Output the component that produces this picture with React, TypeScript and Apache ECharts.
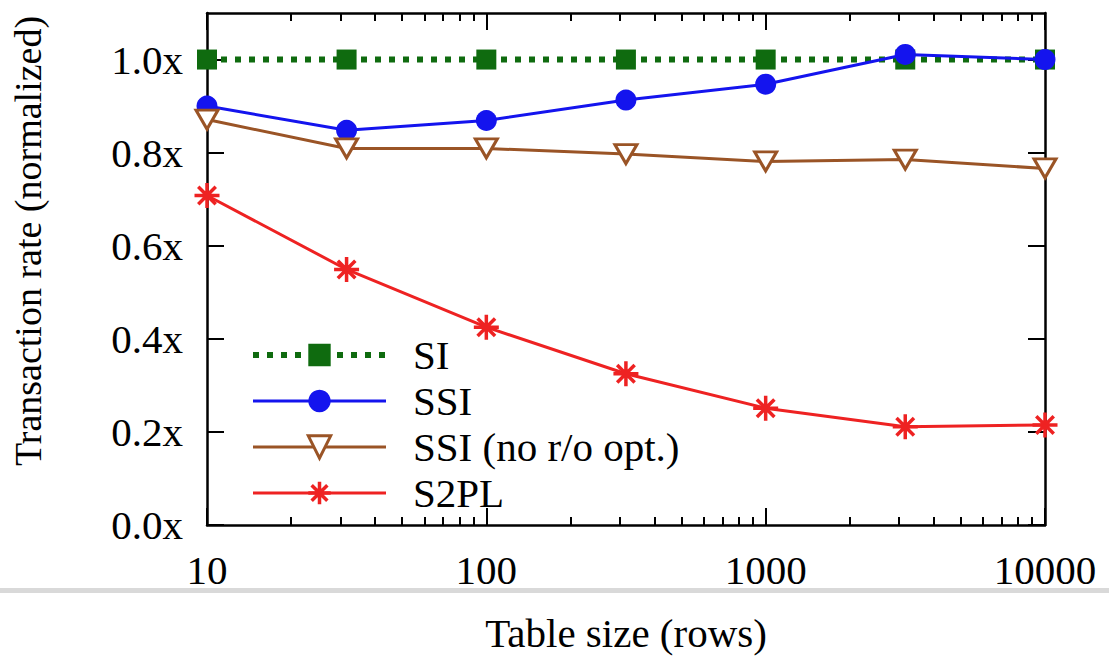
import React, { useEffect, useRef } from "react";
import * as echarts from "echarts";

const tableSizes = [10, 31.6, 100, 316, 1000, 3160, 10000];
const siValues = [1.0, 1.0, 1.0, 1.0, 1.0, 1.0, 1.0];
const ssiValues = [0.9, 0.848, 0.869, 0.913, 0.947, 1.011, 1.0];
const ssiNoRoValues = [0.871, 0.809, 0.809, 0.797, 0.781, 0.785, 0.766];
const s2plValues = [0.708, 0.549, 0.425, 0.325, 0.251, 0.211, 0.215];
const yTicks = [0, 0.2, 0.4, 0.6, 0.8, 1.0];
const xMajorTicks = [10, 100, 1000, 10000];
const xMinorTicks = [20, 30, 40, 50, 60, 70, 80, 90, 200, 300, 400, 500, 600, 700, 800, 900, 2000, 3000, 4000, 5000, 6000, 7000, 8000, 9000];

const FONT = "'Liberation Serif', 'Times New Roman', serif";
const GREEN = "#0f6b0f";
const BLUE = "#1414ee";
const BROWN = "#9a5426";
const RED = "#ee2222";

export default function App() {
  const ref = useRef<HTMLDivElement>(null);
  useEffect(() => {
    if (!ref.current) return;
    const chart = echarts.init(ref.current, null, { renderer: "svg" });
    const pair = (vals: number[]) => tableSizes.map((x, i) => [x, vals[i]]);
    const minorLog = xMinorTicks.map((v) => Math.log10(v));
    const majorLog = xMajorTicks.map((v) => Math.log10(v));
    const axisLine = { show: true, lineStyle: { color: "#000", width: 2.5 } };
    const hiddenLabel = { show: false };
    const option: any = {
      animation: false,
      backgroundColor: "#fff",
      grid: { left: 207, right: 64, top: 13, bottom: 131, containLabel: false },
      xAxis: [
        {
          type: "log",
          logBase: 10,
          min: 10,
          max: 10000,
          position: "bottom",
          axisLine,
          axisTick: { show: false },
          axisLabel: {
            show: true,
            fontFamily: FONT,
            fontSize: 41,
            color: "#000",
            margin: 24,
            formatter: (v: number) => String(Math.round(v)),
          },
          splitLine: { show: false },
        },
        {
          type: "value", min: 1, max: 4, position: "bottom",
          axisLine: { show: false },
          axisTick: { show: true, inside: true, length: 17, customValues: majorLog, lineStyle: { color: "#000", width: 2 } },
          axisLabel: hiddenLabel, splitLine: { show: false },
        },
        {
          type: "value", min: 1, max: 4, position: "bottom",
          axisLine: { show: false },
          axisTick: { show: true, inside: true, length: 8, customValues: minorLog, lineStyle: { color: "#000", width: 2 } },
          axisLabel: hiddenLabel, splitLine: { show: false },
        },
        {
          type: "value", min: 1, max: 4, position: "top",
          axisLine,
          axisTick: { show: true, inside: true, length: 17, customValues: majorLog, lineStyle: { color: "#000", width: 2 } },
          axisLabel: hiddenLabel, splitLine: { show: false },
        },
        {
          type: "value", min: 1, max: 4, position: "top",
          axisLine: { show: false },
          axisTick: { show: true, inside: true, length: 8, customValues: minorLog, lineStyle: { color: "#000", width: 2 } },
          axisLabel: hiddenLabel, splitLine: { show: false },
        },
      ],
      yAxis: [
        {
          type: "value",
          min: 0,
          max: 1.1,
          position: "left",
          axisLine,
          axisTick: { show: true, inside: true, length: 17, customValues: yTicks, lineStyle: { color: "#000", width: 2 } },
          axisLabel: {
            show: true,
            customValues: yTicks,
            fontFamily: FONT,
            fontSize: 41,
            color: "#000",
            margin: 24,
            formatter: (v: number) => v.toFixed(1) + "x",
          },
          splitLine: { show: false },
        },
        {
          type: "value",
          min: 0,
          max: 1.1,
          position: "right",
          axisLine,
          axisTick: { show: true, inside: true, length: 17, customValues: yTicks, lineStyle: { color: "#000", width: 2 } },
          axisLabel: hiddenLabel,
          splitLine: { show: false },
        },
      ],
      legend: {
        left: 250,
        top: 332,
        orient: "vertical",
        padding: 0,
        itemGap: 0,
        itemWidth: 133,
        itemHeight: 28,
        lineStyle: { width: "inherit", type: "inherit" },
        itemStyle: { borderWidth: "inherit" },
        textStyle: { fontFamily: FONT, fontSize: 41, color: "#000", lineHeight: 46, padding: [0, 0, 0, 22] },
        data: ["SI", "SSI", "SSI (no r/o opt.)", "S2PL"],
      },
      series: [
        {
          name: "SI",
          type: "line",
          data: pair(siValues),
          symbol: "rect",
          symbolSize: 20,
          itemStyle: { color: GREEN },
          lineStyle: { color: GREEN, width: 6, type: [6, 8] },
        },
        {
          name: "SSI",
          type: "line",
          data: pair(ssiValues),
          symbol: "circle",
          symbolSize: 21,
          itemStyle: { color: BLUE },
          lineStyle: { color: BLUE, width: 3 },
        },
        {
          name: "SSI (no r/o opt.)",
          type: "line",
          data: pair(ssiNoRoValues),
          symbol: "path://M0,0L20,0L10,17Z",
          symbolSize: [22, 19],
          itemStyle: { color: "#fff", borderColor: BROWN, borderWidth: 3 },
          lineStyle: { color: BROWN, width: 3 },
        },
        {
          name: "S2PL",
          type: "line",
          data: pair(s2plValues),
          symbol: "path://M10,0L10,20M0,10L20,10M3,3L17,17M3,17L17,3",
          symbolSize: 25,
          itemStyle: { color: RED, borderColor: RED, borderWidth: 3.5 },
          lineStyle: { color: RED, width: 3 },
        },
      ],
      graphic: [
        {
          type: "rect",
          shape: { x: 0, y: 588, width: 1109, height: 5 },
          style: { fill: "#d9d9d9" },
          silent: true,
        },
        {
          type: "text",
          x: 28,
          y: 241,
          rotation: Math.PI / 2,
          style: {
            text: "Transaction rate (normalized)",
            fontFamily: FONT,
            fontSize: 38,
            fill: "#000",
            align: "center",
            verticalAlign: "middle",
          },
        },
        {
          type: "text",
          x: 626,
          y: 633,
          style: {
            text: "Table size (rows)",
            fontFamily: FONT,
            fontSize: 41,
            fill: "#000",
            align: "center",
            verticalAlign: "middle",
          },
        },
      ],
    };
    chart.setOption(option);
    return () => chart.dispose();
  }, []);
  return (
    <div
      ref={ref}
      style={{ position: "fixed", left: 0, top: 0, width: 1109, height: 656, background: "#fff" }}
    />
  );
}
